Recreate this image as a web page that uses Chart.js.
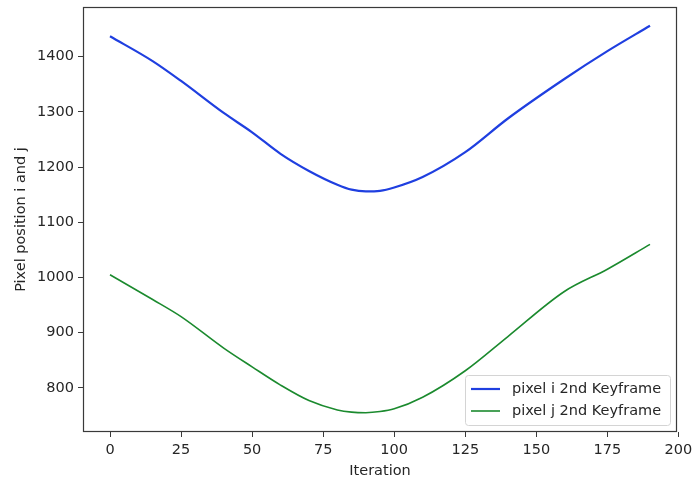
<!DOCTYPE html>
<html>
<head>
<meta charset="utf-8">
<script src="https://cdn.jsdelivr.net/npm/chart.js@4/dist/chart.umd.min.js"></script>
<style>
  html, body { margin: 0; padding: 0; background: #fff; }
  #wrap { width: 696px; height: 484px; }
</style>
</head>
<body>
<div id="wrap"><canvas id="c" width="696" height="484"></canvas></div>
<script>
// Iterations sampled along the run
const iterations = [0, 15, 25, 40, 50, 60, 70, 80, 85, 90, 95, 100, 110, 125, 140, 160, 175, 190];
// Pixel i position of the 2nd keyframe
const pixelI = [1437, 1392, 1356, 1298, 1263, 1224, 1193, 1168, 1159, 1156, 1157, 1163, 1182, 1227, 1288, 1360, 1410, 1456];
// Pixel j position of the 2nd keyframe
const pixelJ = [1005, 960, 929, 872, 838, 805, 777, 760, 756, 755, 757, 762, 783, 831, 893, 975, 1015, 1060];
// Tick labels
const xTicks = [0, 25, 50, 75, 100, 125, 150, 175, 200];
const yTicks = [800, 900, 1000, 1100, 1200, 1300, 1400];

const seriesLabels = ['pixel i 2nd Keyframe', 'pixel j 2nd Keyframe'];
const FONT = 'DejaVu Sans';
const FSIZE = 14.5;
const TEXT = '#262626';
const AXIS = '#3a3a3a';

const toPoints = (xs, ys) => xs.map((x, k) => ({ x: x, y: ys[k] }));

// Full rectangular frame around the plot area
const framePlugin = {
  id: 'frame',
  afterDatasetsDraw(chart) {
    const { ctx, chartArea: a } = chart;
    ctx.save();
    ctx.strokeStyle = AXIS;
    ctx.lineWidth = 1.2;
    ctx.strokeRect(a.left + 0.5, a.top + 0.5, a.right - a.left - 1, a.bottom - a.top - 1);
    ctx.restore();
  }
};

// Legend box in the lower-right corner of the plot area
const cornerLegend = {
  id: 'cornerLegend',
  afterDraw(chart) {
    const { ctx, chartArea: a } = chart;
    const w = 205, h = 50;
    const x0 = a.right - 7 - w, y0 = a.bottom - 7 - h;
    ctx.save();
    ctx.fillStyle = 'rgba(255,255,255,0.85)';
    ctx.strokeStyle = '#d4d4d4';
    ctx.lineWidth = 1;
    ctx.beginPath();
    ctx.roundRect(x0 + 0.5, y0 + 0.5, w, h, 3);
    ctx.fill();
    ctx.stroke();
    ctx.font = FSIZE + 'px "' + FONT + '"';
    ctx.textBaseline = 'middle';
    ctx.fillStyle = TEXT;
    chart.data.datasets.forEach((ds, k) => {
      const yy = y0 + 14 + k * 22;
      ctx.strokeStyle = ds.borderColor;
      ctx.lineWidth = ds.borderWidth;
      ctx.beginPath();
      ctx.moveTo(x0 + 6, yy);
      ctx.lineTo(x0 + 35, yy);
      ctx.stroke();
      ctx.fillText(ds.label, x0 + 47, yy);
    });
    ctx.restore();
  }
};

new Chart(document.getElementById('c'), {
  type: 'line',
  data: {
    datasets: [
      {
        label: seriesLabels[0],
        data: toPoints(iterations, pixelI),
        borderColor: '#1f3fe0',
        borderWidth: 2.2,
        pointRadius: 0,
        fill: false,
        cubicInterpolationMode: 'monotone'
      },
      {
        label: seriesLabels[1],
        data: toPoints(iterations, pixelJ),
        borderColor: '#1b8a2e',
        borderWidth: 1.6,
        pointRadius: 0,
        fill: false,
        cubicInterpolationMode: 'monotone'
      }
    ]
  },
  options: {
    responsive: false,
    animation: false,
    layout: { padding: { left: 0, top: 7, right: 19, bottom: 0 } },
    plugins: {
      legend: { display: false },
      tooltip: { enabled: false }
    },
    scales: {
      x: {
        type: 'linear',
        min: -9.5,
        max: 199.5,
        afterBuildTicks(scale) { scale.ticks = xTicks.map(v => ({ value: v })); },
        afterFit(scale) { scale.height = 52; scale.paddingLeft = 0; scale.paddingRight = 0; },
        grid: { drawOnChartArea: false, drawTicks: true, tickLength: 5, tickColor: AXIS },
        border: { display: false },
        ticks: { color: TEXT, font: { family: FONT, size: FSIZE }, padding: 5, maxRotation: 0, autoSkip: false,
                 callback: v => String(v) },
        title: { display: true, text: 'Iteration', color: TEXT, font: { family: FONT, size: FSIZE }, padding: { top: 0, bottom: 4 } }
      },
      y: {
        type: 'linear',
        min: 720,
        max: 1490,
        afterBuildTicks(scale) { scale.ticks = yTicks.map(v => ({ value: v })); },
        afterFit(scale) { scale.width = 83; scale.paddingTop = 0; scale.paddingBottom = 0; },
        grid: { drawOnChartArea: false, drawTicks: true, tickLength: 5, tickColor: AXIS },
        border: { display: false },
        ticks: { color: TEXT, font: { family: FONT, size: FSIZE }, padding: 4, autoSkip: false,
                 callback: v => String(v) },
        title: { display: true, text: 'Pixel position i and j', color: TEXT, font: { family: FONT, size: FSIZE }, padding: { top: 13, bottom: 0 } }
      }
    }
  },
  plugins: [framePlugin, cornerLegend]
});
</script>
</body>
</html>
